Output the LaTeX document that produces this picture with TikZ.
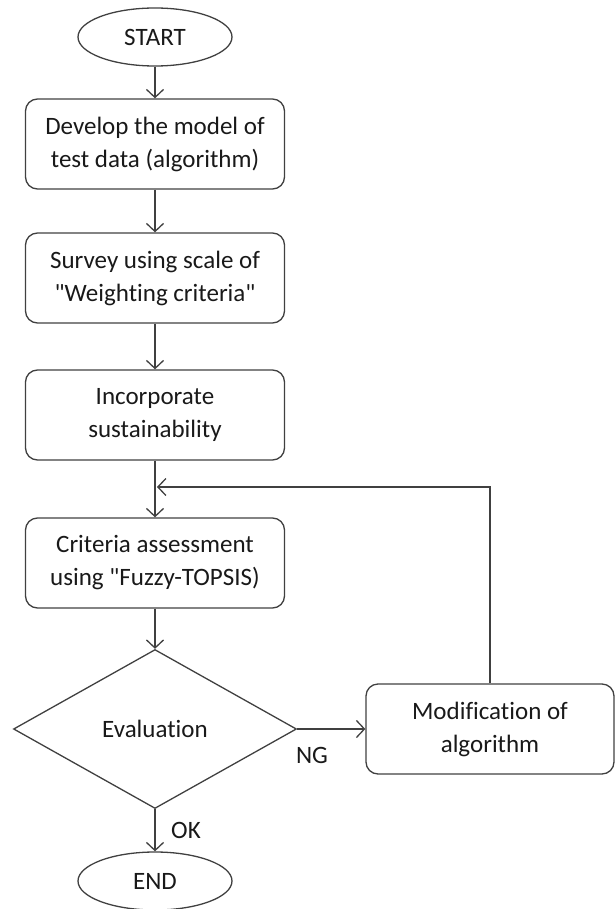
\documentclass[tikz,border=0pt]{standalone}
\usepackage{fontspec}
\setmainfont{Carlito}[Ligatures=NoCommon]
\usetikzlibrary{shapes.geometric,arrows.meta}
\definecolor{linegray}{HTML}{404040}
\begin{document}
\begin{tikzpicture}[x=1pt, y=-1pt, line width=1.3pt,
    font=\fontsize{25}{33}\selectfont, text=black!90,
    box/.style={draw=linegray, rounded corners=12pt, minimum width=259pt, minimum height=90pt, align=center},
    term/.style={draw=linegray, ellipse, minimum width=154pt, minimum height=58pt},
    decide/.style={draw=linegray, diamond, inner sep=0pt, minimum width=283pt, minimum height=159pt},
    flow/.style={draw=linegray, -{Straight Barb[length=8pt, width=17pt, line width=1.3pt]}}]
	\useasboundingbox (0,0) rectangle (614,909);
	% main column
	\node[term] (start) at (155,37) {START};
	\node[box] (model) at (155,144) {Develop the model of\\test data (algorithm)};
	\node[box] (survey) at (155,278) {Survey using scale of\\\textquotedbl Weighting criteria\textquotedbl};
	\node[box] (sustain) at (155,415) {Incorporate\\sustainability};
	\node[box] (assess) at (155,563) {Criteria assessment\\using \textquotedbl Fuzzy-TOPSIS)};
	\node[decide] (eval) at (155,729) {Evaluation};
	\node[box, minimum width=248pt] (modify) at (490,729) {Modification of\\algorithm};
	\node[term] (finish) at (155,881) {END};
	\coordinate (join) at (157,487);

	\draw[flow] (start) -- (model);
	\draw[flow] (model) -- (survey);
	\draw[flow] (survey) -- (sustain);
	\draw[flow] (sustain) -- (assess);
	\draw[flow] (assess) -- (eval);
	\draw[flow] (eval) -- (modify);
	\draw[flow] (eval) -- (finish);
	% loop back
	\draw[flow] (modify.north) |- (join);

	\node (ng) at (312,755) {NG};
	\node (ok) at (186,830) {OK};

    \end{tikzpicture}
\end{document}
